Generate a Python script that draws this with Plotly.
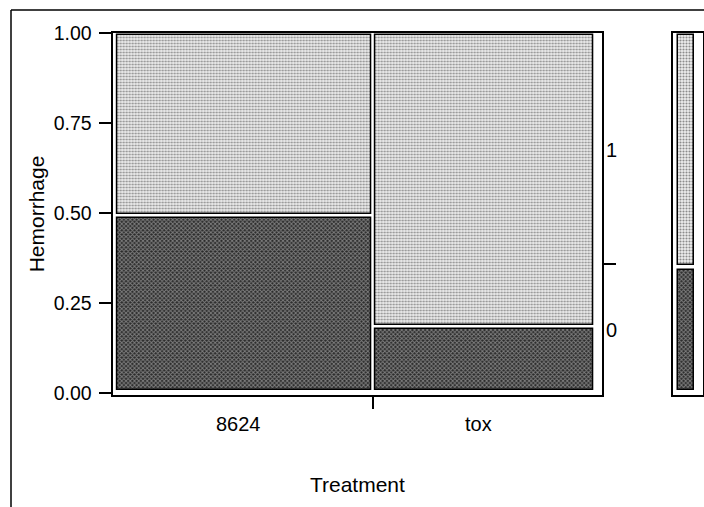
import plotly.graph_objects as go

# ---- data ----
treatments = ["8624", "tox"]
hem_levels = ["0", "1"]
count_hem0 = [28, 9]     # Hemorrhage = 0
count_hem1 = [29, 40]    # Hemorrhage = 1
y_ticks = [0, 0.25, 0.5, 0.75, 1.0]

totals = [a + b for a, b in zip(count_hem0, count_hem1)]
N = sum(totals)
shares = [t / N for t in totals]
p0 = [a / t for a, t in zip(count_hem0, totals)]
p0_all = sum(count_hem0) / N

# ---- geometry helpers (styling gaps) ----
X0, XGAP, XEND = 0.008, 0.008, 0.983
span = XEND - X0 + XGAP
centers, widths, bounds = [], [], []
cur = X0
for s in shares:
    slot = s * span
    widths.append(slot - XGAP)
    centers.append(cur + (slot - XGAP) / 2)
    cur += slot
    bounds.append(cur - XGAP / 2)
boundary_ticks = bounds[:-1]

YB, YT, HG = 0.008, 0.994, 0.006

W, H = 704, 507
px = lambda v: v / W
py = lambda v: 1 - v / H

FONT = "Liberation Sans, Arial, sans-serif"
FS = 20
TFS = 19.5
light_marker = dict(color="#dadada",
                    pattern=dict(shape=".", fgcolor="#2a2a2a", bgcolor="#eeeeee",
                                 size=3, solidity=0.4, fillmode="overlay"),
                    line=dict(color="black", width=1.5))
dark_marker = dict(color="#555555",
                   pattern=dict(shape="x", fgcolor="#d2d2d2", bgcolor="#2a2a2a",
                                size=3, solidity=0.55, fillmode="overlay"),
                   line=dict(color="black", width=1.5))

fig = go.Figure()
# main mosaic: Hemorrhage = 0 (bottom) and Hemorrhage = 1 (top)
fig.add_trace(go.Bar(x=centers, width=widths, base=[YB] * len(p0),
                     y=[p - HG - YB for p in p0], marker=dark_marker,
                     name="0", showlegend=False, hoverinfo="skip"))
fig.add_trace(go.Bar(x=centers, width=widths, base=[p + HG for p in p0],
                     y=[YT - (p + HG) for p in p0], marker=light_marker,
                     xaxis="x2", yaxis="y2",
                     name="1", showlegend=False, hoverinfo="skip"))
# marginal bar
fig.add_trace(go.Bar(x=[0.43], width=[0.53], base=[YB], y=[p0_all - HG - YB],
                     marker=dark_marker, xaxis="x3", yaxis="y4",
                     showlegend=False, hoverinfo="skip"))
fig.add_trace(go.Bar(x=[0.43], width=[0.53], base=[p0_all + HG],
                     y=[YT - (p0_all + HG)], marker=light_marker,
                     xaxis="x3", yaxis="y4", showlegend=False, hoverinfo="skip"))

xdom = [px(113.3), px(601.5)]
ydom = [py(395), py(33)]
yrange = [-0.00556, 1.0]

annotations = [
    dict(text=lab, x=px(604), xref="paper", y=yv, yref="y",
         xanchor="left", yanchor="middle", showarrow=False,
         font=dict(family=FONT, size=FS, color="black"))
    for lab, yv in zip(hem_levels, [p0_all / 2, (1 + p0_all) / 2])
] + [
    dict(text=lab, x=xc, xref="x", y=py(424), yref="paper", xshift=-6,
         xanchor="center", yanchor="middle", showarrow=False,
         font=dict(family=FONT, size=FS, color="black"))
    for lab, xc in zip(treatments, centers)
]

fig.update_layout(
    width=W, height=H,
    margin=dict(l=0, r=0, t=0, b=0),
    paper_bgcolor="white", plot_bgcolor="white",
    barmode="overlay", bargap=0,
    font=dict(family=FONT, size=FS, color="black"),
    xaxis=dict(domain=xdom, range=[0, 1], anchor="y",
               showline=True, linecolor="black", linewidth=1.5, mirror=True,
               tickvals=boundary_ticks, ticktext=[""] * len(boundary_ticks),
               ticks="outside", ticklen=12, tickwidth=1.5, tickcolor="black",
               showgrid=False, zeroline=False, automargin=False),
    xaxis2=dict(overlaying="x", range=[0, 1], anchor="y2", side="bottom",
                showticklabels=False, ticks="",
                showline=False, showgrid=False, zeroline=False,
                title=dict(text="Treatment", standoff=82,
                           font=dict(size=21)),
                automargin=False),
    yaxis=dict(domain=ydom, range=yrange, anchor="x",
               showline=True, linecolor="black", linewidth=1.5,
               tickvals=y_ticks, tickformat=".2f", tickfont=dict(size=TFS),
               ticks="outside", ticklen=13, tickwidth=1.5, tickcolor="black",
               ticklabelstandoff=3,
               showgrid=False, zeroline=False,
               title=dict(text="Hemorrhage", standoff=3, font=dict(size=21)),
               automargin=False),
    yaxis2=dict(overlaying="y", range=yrange, anchor="x2", side="right",
                showline=True, linecolor="black", linewidth=1.5,
                tickvals=[p0_all + 0.01], ticktext=[""],
                ticks="outside", ticklen=13, tickwidth=1.5, tickcolor="black",
                showgrid=False, zeroline=False, automargin=False),
    xaxis3=dict(domain=[px(673), px(702.5)], range=[0, 1], anchor="y4",
                showline=True, linecolor="black", linewidth=1.5, mirror=True,
                showticklabels=False, ticks="", showgrid=False, zeroline=False),
    yaxis4=dict(domain=ydom, range=yrange, anchor="x3",
                showline=True, linecolor="black", linewidth=1.5, mirror=True,
                showticklabels=False, ticks="", showgrid=False, zeroline=False),
    annotations=annotations,
    shapes=[
        dict(type="line", xref="paper", yref="paper",
             x0=px(11), x1=px(11), y0=0, y1=py(10),
             line=dict(color="black", width=1.5)),
        dict(type="line", xref="paper", yref="paper",
             x0=px(11), x1=1, y0=py(10), y1=py(10),
             line=dict(color="black", width=1.5)),
    ],
)

fig.write_html("out.html")
